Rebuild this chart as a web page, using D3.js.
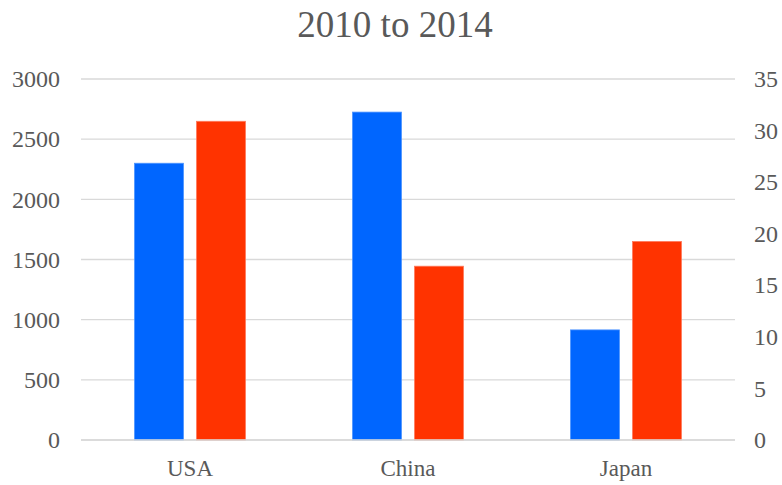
<!DOCTYPE html>
<html>
<head>
<meta charset="utf-8">
<script src="https://cdn.jsdelivr.net/npm/d3@7"></script>
<style>
  html, body { margin: 0; padding: 0; background: #ffffff; }
  svg { display: block; }
  svg text { font-family: 'Liberation Serif', 'Times New Roman', serif !important; fill: #595959; }
</style>
</head>
<body>
<svg id="chart" width="782" height="485"></svg>
<script>
const title = "2010 to 2014";
const categories = ["USA", "China", "Japan"];
const seriesLeft = [2300, 2725, 915];     // blue, left axis
const seriesRight = [30.9, 16.85, 19.25];  // red, right axis
const leftTicks = [0, 500, 1000, 1500, 2000, 2500, 3000];
const rightTicks = [0, 5, 10, 15, 20, 25, 30, 35];

const W = 782, H = 485;
const margin = { top: 79, right: 47, bottom: 45, left: 81 };
const plotW = W - margin.left - margin.right;
const FONT = "'Liberation Serif', 'Times New Roman', serif";

const svg = d3.select("#chart");
const g = svg.append("g").attr("transform", `translate(${margin.left},${margin.top})`);

const x = d3.scaleBand().domain(categories).range([0, plotW]).paddingInner(0).paddingOuter(0);
const yL = d3.scaleLinear().domain([0, 3000]).range([361, 0]);
const yR = d3.scaleLinear().domain([0, 35]).range([361, 0]);

// gridlines
g.append("g").selectAll("line").data(leftTicks).join("line")
  .attr("x1", 0).attr("x2", plotW)
  .attr("y1", d => yL(d)).attr("y2", d => yL(d))
  .attr("stroke", "#d9d9d9").attr("stroke-width", 1.3);

const barW = 49, gap = 13;
const groupW = barW * 2 + gap;

// blue bars
g.append("g").selectAll("rect").data(categories).join("rect")
  .attr("x", d => x(d) + x.bandwidth() / 2 - groupW / 2)
  .attr("y", (d, i) => yL(seriesLeft[i]))
  .attr("width", barW)
  .attr("height", (d, i) => yL(0) - yL(seriesLeft[i]))
  .attr("fill", "#0066FF")
  .attr("stroke", "#4d94ff").attr("stroke-width", 0.8);

// red bars
g.append("g").selectAll("rect").data(categories).join("rect")
  .attr("x", d => x(d) + x.bandwidth() / 2 - groupW / 2 + barW + gap)
  .attr("y", (d, i) => yR(seriesRight[i]))
  .attr("width", barW)
  .attr("height", (d, i) => yR(0) - yR(seriesRight[i]))
  .attr("fill", "#FF3300")
  .attr("stroke", "#ff7a5c").attr("stroke-width", 0.8);

// baseline redraw
g.append("line").attr("x1", 0).attr("x2", plotW).attr("y1", yL(0)).attr("y2", yL(0))
  .attr("stroke", "#d9d9d9").attr("stroke-width", 1.3);

function styleAxis(size) {
  return sel => {
    sel.attr("font-family", FONT).attr("font-size", size);
    sel.select(".domain").remove();
    sel.selectAll("text").attr("fill", "#595959").style("font-family", FONT).style("font-size", size + "px");
  };
}

// left axis
const axL = d3.axisLeft(yL).tickValues(leftTicks).tickFormat(d3.format("d")).tickSize(0).tickPadding(21);
g.append("g").call(axL).call(styleAxis(24));

// right axis
const axR = d3.axisRight(yR).tickValues(rightTicks).tickFormat(d3.format("d")).tickSize(0).tickPadding(19);
g.append("g").attr("transform", `translate(${plotW},0)`).call(axR).call(styleAxis(24));

// x axis
const axX = d3.axisBottom(x).tickSize(0).tickPadding(20);
g.append("g").attr("transform", `translate(0,361)`).call(axX).call(styleAxis(23));

// title
svg.append("text").attr("x", 395).attr("y", 37)
  .attr("text-anchor", "middle")
  .style("font-family", FONT)
  .style("font-size", "37px")
  .text(title);
</script>
</body>
</html>
